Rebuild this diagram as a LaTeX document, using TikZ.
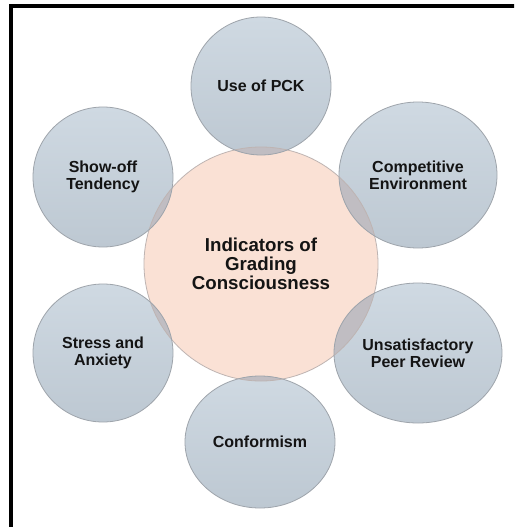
\documentclass[tikz,border=0pt]{standalone}
\usepackage{fontspec}
\setmainfont{Liberation Sans}
\usetikzlibrary{shapes.geometric}
\definecolor{ctop}{RGB}{207,217,226}
\definecolor{cbot}{RGB}{189,200,210}
\definecolor{cedge}{RGB}{158,164,171}
\definecolor{corefill}{RGB}{250,225,213}
\definecolor{coreedge}{RGB}{190,180,178}
\definecolor{overlapc}{RGB}{192,189,194}
\definecolor{txt}{RGB}{20,20,20}
\begin{document}
\begin{tikzpicture}[x=1pt,y=-1pt,
  small/.style={ellipse, inner sep=0pt, top color=ctop, bottom color=cbot, draw=none,
    align=center, text=txt, font=\fontsize{16}{17}\selectfont\bfseries},
  core/.style={circle, inner sep=0pt, fill=corefill, draw=none, minimum size=234pt,
    align=center, text=txt, font=\fontsize{18.7}{19}\selectfont\bfseries},
  sedge/.style={draw=cedge, line width=0.8pt},
  cedgest/.style={draw=coreedge, line width=0.8pt},
  frame/.style={draw=black, line width=4pt}]
\clip (0,0) rectangle (514,527);
\fill[white] (0,0) rectangle (514,527);
\draw[frame] (11,540) -- (11,6) -- (530,6);

\node[core] (core) at (261,264) {Indicators of\\Grading\\Consciousness};

\node[small, minimum width=140pt, minimum height=138pt] (pck) at (261,86) {Use of PCK};
\node[small, minimum width=140pt, minimum height=140pt] (show) at (103,177) {Show-off\\Tendency};
\node[small, minimum width=158pt, minimum height=146pt] (comp) at (418,175) {Competitive\\Environment};
\node[small, minimum width=140pt, minimum height=138pt] (stress) at (103,353) {Stress and\\Anxiety};
\node[small, minimum width=168pt, minimum height=140pt] (unsat) at (418,353) {Unsatisfactory\\Peer Review};
\node[small, minimum width=150pt, minimum height=132pt] (conf) at (260,442) {Conformism};

% overlaps
\foreach \n/\rx/\ry in {pck/70/69, show/70/70, comp/79/73, stress/70/69, unsat/84/70, conf/75/66}{
  \begin{scope}
    \clip (\n.center) ellipse [x radius=\rx pt, y radius=\ry pt];
    \fill[overlapc] (core.center) circle [radius=117pt];
  \end{scope}
}
% borders
\draw[cedgest] (core.center) circle [radius=117pt];
\foreach \n/\rx/\ry in {pck/70/69, show/70/70, comp/79/73, stress/70/69, unsat/84/70, conf/75/66}{
  \draw[sedge] (\n.center) ellipse [x radius=\rx pt, y radius=\ry pt];
}
\end{tikzpicture}
\end{document}
